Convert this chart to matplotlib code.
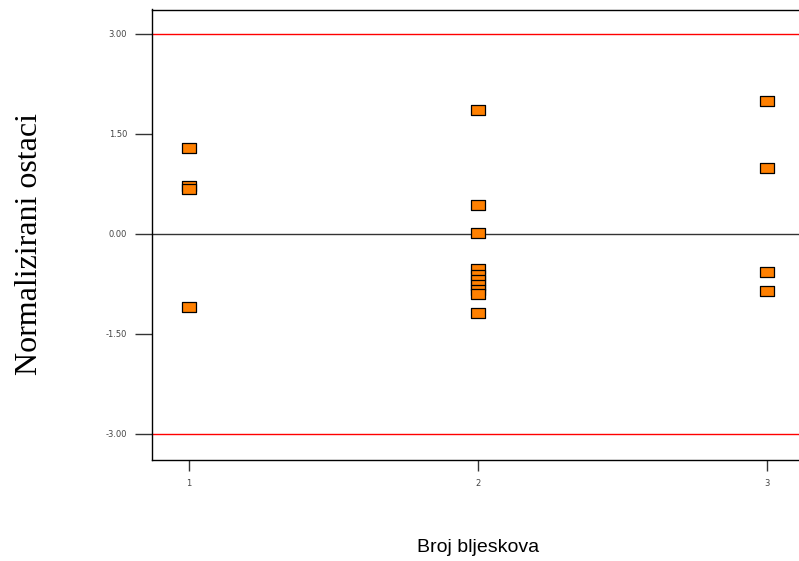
import numpy as np
import matplotlib
matplotlib.use("Agg")
import matplotlib.pyplot as plt
from matplotlib.path import Path

# residuals, grouped by number of flashes
broj_1 = [1.29, 0.72, 0.675, -1.09]
broj_2 = [1.86, 0.43, 0.02, -0.52, -0.61, -0.69, -0.77, -0.84, -0.90, -1.18]
broj_3 = [2.00, 0.985, -0.57, -0.855]
yticks = [3.0, 1.5, 0.0, -1.5, -3.0]
xticks = [1, 2, 3]

fig = plt.figure(figsize=(7.99, 5.61), dpi=100)
ax = fig.add_axes([152 / 799, 1 - 460 / 561, 1 - 152 / 799, (460 - 9.5) / 561])

# wide rectangle marker
rect = Path([(-1.5, -1), (1.5, -1), (1.5, 1), (-1.5, 1), (-1.5, -1)],
            [Path.MOVETO, Path.LINETO, Path.LINETO, Path.LINETO, Path.CLOSEPOLY])

for x, vals in zip(xticks, [broj_1, broj_2, broj_3]):
    ax.plot([x] * len(vals), vals, linestyle="none", marker=rect, markersize=10.5,
            markerfacecolor="#ff8000", markeredgecolor="black", markeredgewidth=0.9,
            zorder=3)

ax.axhline(3.0, color="red", lw=1.0, zorder=1)
ax.axhline(-3.0, color="red", lw=1.0, zorder=1)
ax.axhline(0.0, color="#333333", lw=1.0, zorder=1)

ax.set_xlim(0.872, 3.111)
ax.set_ylim(-3.39, 3.367)

ax.set_yticks(yticks)
ax.set_yticklabels(["%.2f" % v for v in yticks])
ax.set_xticks(xticks)
ax.set_xticklabels([str(v) for v in xticks])
ax.tick_params(axis="y", length=12, width=1, color="#333333", labelsize=6,
               labelcolor="#444444", pad=6)
ax.tick_params(axis="x", length=8, width=1, color="#333333", labelsize=6,
               labelcolor="#444444", pad=6)

ax.spines["right"].set_visible(False)
for s in ["left", "top", "bottom"]:
    ax.spines[s].set_linewidth(1.0)
    ax.spines[s].set_color("black")

fig.text(30 / 799, 1 - 244 / 561, "Normalizirani ostaci", rotation=90,
         family="Liberation Serif", fontsize=23, ha="center", va="center")
fig.text(478 / 799, 1 - 547 / 561, "Broj bljeskova", family="Liberation Sans",
         fontsize=14, ha="center", va="center")

fig.savefig("out.png", dpi=100)
